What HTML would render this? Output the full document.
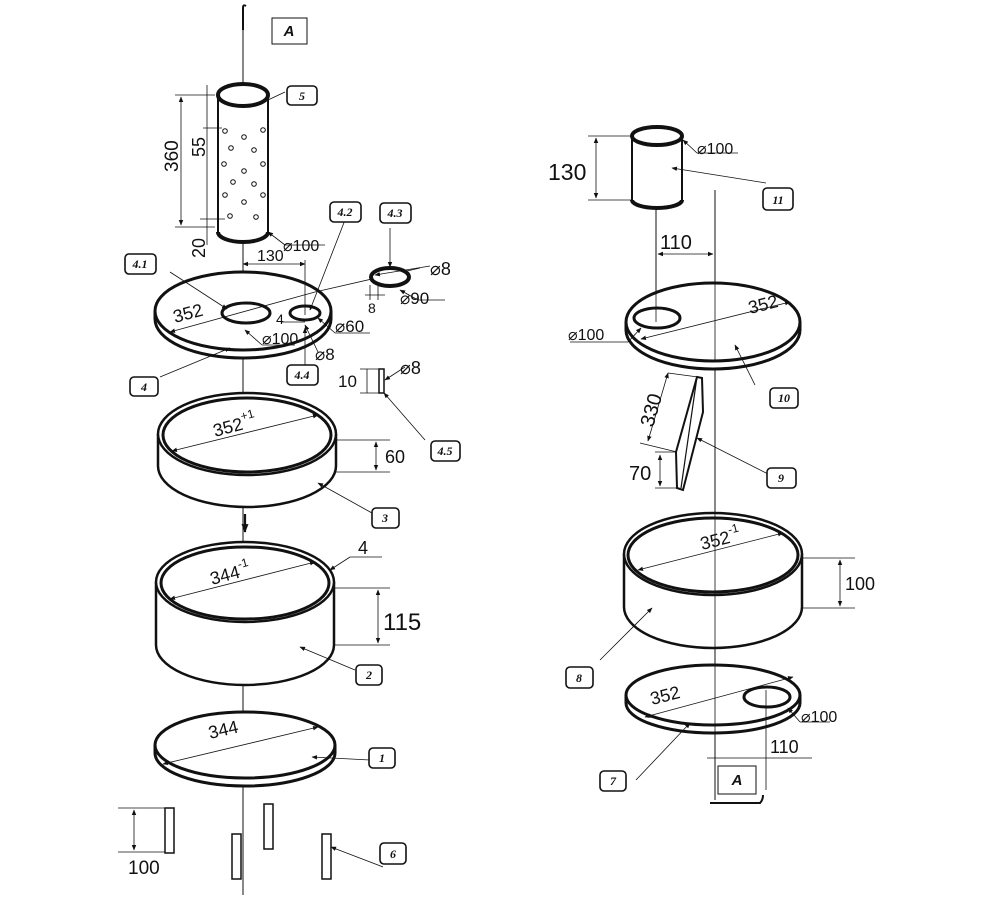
<!DOCTYPE html>
<html><head><meta charset="utf-8"><style>
html,body{margin:0;padding:0;background:#fff;}
svg{display:block}
text{font-family:"Liberation Sans",sans-serif;fill:#111}
.lb{font-family:"Liberation Serif",serif;font-style:italic;font-size:12px;font-weight:bold}
</style></head><body>
<svg width="1000" height="900" viewBox="0 0 1000 900" xmlns="http://www.w3.org/2000/svg">
<defs>
<marker id="a" viewBox="0 0 10 10" refX="9" refY="5" markerWidth="7" markerHeight="7" orient="auto-start-reverse"><path d="M0,1 L10,5 L0,9 z" fill="#111"/></marker>
<marker id="b" viewBox="0 0 10 10" refX="9" refY="5" markerWidth="4" markerHeight="4" orient="auto"><path d="M0,1 L10,5 L0,9 z" fill="#111"/></marker>
</defs>
<g stroke="#111" fill="none">
<line x1="243" y1="28" x2="243" y2="895" stroke-width="1"/>
<path d="M243,30 V8 Q243,4 246,6" stroke-width="2"/>
<line x1="715" y1="190" x2="715" y2="800" stroke-width="1"/>
<line x1="656" y1="205" x2="656" y2="320" stroke-width="1"/>
<rect x="272" y="18" width="35" height="26" stroke-width="1"/>
<rect x="718" y="766" width="38" height="28" stroke-width="1"/>
<path d="M710,803 H760 Q763,800 763,795" stroke-width="2"/>

<path d="M218,95 V232 A25,10 0 0 0 268,232 V95" fill="#fff" stroke-width="2"/>
<path d="M218,232 A25,10 0 0 0 268,232" stroke-width="4"/>
<ellipse cx="243" cy="95" rx="25" ry="11" fill="#fff" stroke-width="4"/>
<g stroke-width="1">
<circle cx="225" cy="131" r="2.3"/><circle cx="263" cy="130" r="2.3"/><circle cx="244" cy="137" r="2.3"/>
<circle cx="231" cy="148" r="2.3"/><circle cx="254" cy="150" r="2.3"/><circle cx="224" cy="164" r="2.3"/>
<circle cx="263" cy="164" r="2.3"/><circle cx="244" cy="171" r="2.3"/><circle cx="233" cy="182" r="2.3"/>
<circle cx="254" cy="184" r="2.3"/><circle cx="225" cy="195" r="2.3"/><circle cx="263" cy="195" r="2.3"/>
<circle cx="244" cy="202" r="2.3"/><circle cx="230" cy="216" r="2.3"/><circle cx="256" cy="217" r="2.3"/>
</g>
<g stroke-width="0.8">
<line x1="175" y1="95" x2="215" y2="95"/><line x1="175" y1="227" x2="215" y2="227"/>
<line x1="181" y1="97" x2="181" y2="225" marker-start="url(#a)" marker-end="url(#a)"/>
<line x1="203" y1="128" x2="222" y2="128"/><line x1="207" y1="85" x2="207" y2="245"/>
<line x1="200" y1="219" x2="225" y2="219"/>
<line x1="268" y1="232" x2="285" y2="245" marker-start="url(#a)"/><line x1="285" y1="245" x2="325" y2="245"/>
<line x1="268" y1="100" x2="285" y2="92"/>
</g>

<path d="M155,311 V319 A88,39 0 0 0 331,319 V311" fill="#fff" stroke-width="3"/>
<ellipse cx="243" cy="311" rx="88" ry="39" fill="#fff" stroke-width="3"/>
<ellipse cx="246" cy="313" rx="24" ry="10" fill="#fff" stroke-width="3"/>
<ellipse cx="305" cy="313" rx="15" ry="7" fill="#fff" stroke-width="3"/>
<g stroke-width="0.8">
<line x1="243" y1="264" x2="305" y2="264" marker-start="url(#a)" marker-end="url(#a)"/>
<line x1="305" y1="260" x2="305" y2="315"/>
<line x1="170" y1="332" x2="315" y2="292" marker-start="url(#a)"/>
<line x1="315" y1="292" x2="420" y2="268"/>
<line x1="170" y1="272" x2="227" y2="309" marker-end="url(#a)"/>
<line x1="345" y1="220" x2="310" y2="310" marker-end="url(#a)"/>
<line x1="245" y1="330" x2="262" y2="345" marker-start="url(#a)"/><line x1="262" y1="345" x2="295" y2="345"/>
<line x1="318" y1="318" x2="335" y2="333" marker-start="url(#a)"/><line x1="335" y1="333" x2="370" y2="333"/>
<line x1="305" y1="325" x2="318" y2="352" marker-start="url(#a)"/>
<line x1="305" y1="365" x2="305" y2="328" marker-end="url(#a)"/>
<line x1="282" y1="322" x2="305" y2="322"/>
<line x1="160" y1="377" x2="230" y2="348" marker-end="url(#a)"/>
</g>
<ellipse cx="390" cy="277" rx="19" ry="9" fill="#fff" stroke-width="4"/>
<g stroke-width="0.8">
<line x1="390" y1="228" x2="390" y2="267" marker-end="url(#a)"/>
<line x1="375" y1="275" x2="430" y2="266" marker-start="url(#a)"/>
<line x1="400" y1="290" x2="418" y2="300" marker-start="url(#a)"/><line x1="418" y1="300" x2="445" y2="300"/>
<line x1="370" y1="285" x2="370" y2="300"/><line x1="378" y1="285" x2="378" y2="300"/>
<line x1="365" y1="295" x2="385" y2="295"/>
</g>
<rect x="379" y="369" width="5" height="24" fill="#fff" stroke-width="1.5"/>
<g stroke-width="0.8">
<line x1="360" y1="369" x2="380" y2="369"/><line x1="360" y1="393" x2="380" y2="393"/>
<line x1="367" y1="369" x2="367" y2="393"/>
<line x1="385" y1="380" x2="405" y2="367" marker-start="url(#a)"/>
<line x1="384" y1="393" x2="425" y2="440" marker-start="url(#a)"/>
</g>

<path d="M158,434 V466 A89,41 0 0 0 336,466 V434" fill="#fff" stroke-width="2.5"/>
<ellipse cx="247" cy="434" rx="89" ry="41" fill="#fff" stroke-width="2.5"/>
<ellipse cx="247" cy="435" rx="84" ry="37" stroke-width="3"/>
<g stroke-width="0.8">
<line x1="172" y1="451" x2="318" y2="415" marker-start="url(#a)" marker-end="url(#a)"/>
<line x1="336" y1="440" x2="390" y2="440"/><line x1="336" y1="472" x2="390" y2="472"/>
<line x1="376" y1="442" x2="376" y2="470" marker-start="url(#a)" marker-end="url(#a)"/>
<line x1="318" y1="483" x2="372" y2="513" marker-start="url(#a)"/>
</g>
<line x1="245" y1="514" x2="245" y2="532" stroke-width="2.2" marker-end="url(#b)"/>

<path d="M156,582 V645 A89,40 0 0 0 334,645 V582" fill="#fff" stroke-width="2.5"/>
<ellipse cx="245" cy="582" rx="89" ry="40" fill="#fff" stroke-width="2.5"/>
<ellipse cx="245" cy="583" rx="84" ry="36" stroke-width="3"/>
<g stroke-width="0.8">
<line x1="170" y1="599" x2="315" y2="562" marker-start="url(#a)" marker-end="url(#a)"/>
<line x1="335" y1="588" x2="390" y2="588"/><line x1="335" y1="645" x2="390" y2="645"/>
<line x1="378" y1="590" x2="378" y2="643" marker-start="url(#a)" marker-end="url(#a)"/>
<line x1="330" y1="570" x2="350" y2="557" marker-start="url(#a)"/><line x1="350" y1="557" x2="382" y2="557"/>
<line x1="300" y1="647" x2="355" y2="670" marker-start="url(#a)"/>
</g>

<path d="M155,745 V753 A90,33 0 0 0 335,753 V745" fill="#fff" stroke-width="3"/>
<ellipse cx="245" cy="745" rx="90" ry="33" fill="#fff" stroke-width="3"/>
<g stroke-width="0.8">
<line x1="163" y1="764" x2="318" y2="727" marker-start="url(#a)" marker-end="url(#a)"/>
<line x1="312" y1="757" x2="370" y2="760" marker-start="url(#a)"/>
</g>

<g stroke-width="1.5" fill="#fff">
<rect x="165" y="808" width="9" height="45"/><rect x="232" y="834" width="9" height="45"/>
<rect x="264" y="804" width="9" height="45"/><rect x="322" y="834" width="9" height="45"/>
</g>
<g stroke-width="0.8">
<line x1="118" y1="808" x2="165" y2="808"/><line x1="118" y1="852" x2="165" y2="852"/>
<line x1="134" y1="810" x2="134" y2="850" marker-start="url(#a)" marker-end="url(#a)"/>
<line x1="331" y1="847" x2="383" y2="867" marker-start="url(#a)"/>
</g>

<path d="M632,136 V200 A25,8 0 0 0 682,200 V136" fill="#fff" stroke-width="2"/>
<path d="M632,200 A25,8 0 0 0 682,200" stroke-width="4"/>
<ellipse cx="657" cy="136" rx="25" ry="9" fill="#fff" stroke-width="4"/>
<g stroke-width="0.8">
<line x1="588" y1="136" x2="632" y2="136"/><line x1="588" y1="200" x2="632" y2="200"/>
<line x1="596" y1="138" x2="596" y2="198" marker-start="url(#a)" marker-end="url(#a)"/>
<line x1="683" y1="140" x2="697" y2="153" marker-start="url(#a)"/><line x1="697" y1="153" x2="738" y2="153"/>
<line x1="672" y1="168" x2="766" y2="183" marker-start="url(#a)"/>
<line x1="658" y1="254" x2="713" y2="254" marker-start="url(#a)" marker-end="url(#a)"/>
</g>

<path d="M626,322 V330 A87,39 0 0 0 800,330 V322" fill="#fff" stroke-width="3"/>
<ellipse cx="713" cy="322" rx="87" ry="39" fill="#fff" stroke-width="3"/>
<ellipse cx="657" cy="318" rx="23" ry="10" fill="#fff" stroke-width="3"/>
<line x1="656" y1="255" x2="656" y2="322" stroke-width="0.8"/>
<line x1="715" y1="282" x2="715" y2="360" stroke-width="0.8"/>
<g stroke-width="0.8">
<line x1="641" y1="339" x2="790" y2="302" marker-start="url(#a)" marker-end="url(#a)"/>
<line x1="641" y1="328" x2="628" y2="342" marker-start="url(#a)"/><line x1="628" y1="342" x2="570" y2="342"/>
<line x1="735" y1="345" x2="755" y2="385" marker-start="url(#a)"/>
</g>

<path d="M697,377 L702,378 L703,412 L683,490 L677,488 L676,452 Z" fill="#fff" stroke-width="2"/>
<line x1="697" y1="377" x2="681" y2="488" stroke-width="1.2"/>
<g stroke-width="0.8">
<line x1="668" y1="373" x2="698" y2="377"/><line x1="640" y1="443" x2="677" y2="452"/>
<line x1="668" y1="373" x2="648" y2="441" marker-start="url(#a)" marker-end="url(#a)"/>
<line x1="655" y1="452" x2="677" y2="452"/><line x1="655" y1="488" x2="677" y2="488"/>
<line x1="660" y1="455" x2="660" y2="486" marker-start="url(#a)" marker-end="url(#a)"/>
<line x1="697" y1="438" x2="770" y2="475" marker-start="url(#a)"/>
</g>

<path d="M624,554 V607 A89,41 0 0 0 802,607 V554" fill="#fff" stroke-width="2.5"/>
<ellipse cx="713" cy="554" rx="89" ry="41" fill="#fff" stroke-width="2.5"/>
<ellipse cx="713" cy="555" rx="85" ry="37" stroke-width="3"/>
<line x1="715" y1="512" x2="715" y2="648" stroke-width="0.8"/>
<g stroke-width="0.8">
<line x1="638" y1="570" x2="783" y2="533" marker-start="url(#a)" marker-end="url(#a)"/>
<line x1="802" y1="558" x2="855" y2="558"/><line x1="802" y1="608" x2="855" y2="608"/>
<line x1="840" y1="560" x2="840" y2="606" marker-start="url(#a)" marker-end="url(#a)"/>
<line x1="652" y1="608" x2="600" y2="660" marker-start="url(#a)"/>
</g>

<path d="M626,695 V703 A87,30 0 0 0 800,703 V695" fill="#fff" stroke-width="3"/>
<ellipse cx="713" cy="695" rx="87" ry="30" fill="#fff" stroke-width="3"/>
<ellipse cx="767" cy="697" rx="23" ry="10" fill="#fff" stroke-width="3"/>
<line x1="715" y1="665" x2="715" y2="733" stroke-width="0.8"/>
<g stroke-width="0.8">
<line x1="645" y1="717" x2="793" y2="677" marker-start="url(#a)" marker-end="url(#a)"/>
<line x1="766" y1="690" x2="766" y2="790"/>
<line x1="707" y1="758" x2="812" y2="758"/>
<line x1="788" y1="708" x2="800" y2="722" marker-start="url(#a)"/><line x1="800" y1="722" x2="830" y2="722"/>
<line x1="690" y1="723" x2="636" y2="780" marker-start="url(#a)"/>
</g>

<g stroke-width="1.6" fill="#fff">
<rect x="287" y="86" width="30" height="19" rx="4"/>
<rect x="330" y="202" width="31" height="20" rx="4"/>
<rect x="380" y="203" width="31" height="20" rx="4"/>
<rect x="125" y="254" width="31" height="20" rx="4"/>
<rect x="130" y="377" width="28" height="19" rx="4"/>
<rect x="287" y="365" width="31" height="20" rx="4"/>
<rect x="431" y="441" width="29" height="20" rx="4"/>
<rect x="372" y="508" width="27" height="20" rx="4"/>
<rect x="356" y="665" width="26" height="20" rx="4"/>
<rect x="369" y="748" width="26" height="20" rx="4"/>
<rect x="380" y="843" width="26" height="21" rx="4"/>
<rect x="763" y="188" width="30" height="22" rx="4"/>
<rect x="770" y="388" width="28" height="20" rx="4"/>
<rect x="767" y="468" width="29" height="20" rx="4"/>
<rect x="566" y="667" width="27" height="21" rx="4"/>
<rect x="600" y="771" width="26" height="20" rx="4"/>
</g>
</g>

<g text-anchor="middle">
<text class="lb" x="302" y="100">5</text>
<text class="lb" x="345" y="216">4.2</text>
<text class="lb" x="395" y="217">4.3</text>
<text class="lb" x="140" y="268">4.1</text>
<text class="lb" x="144" y="391">4</text>
<text class="lb" x="302" y="379">4.4</text>
<text class="lb" x="445" y="455">4.5</text>
<text class="lb" x="385" y="522">3</text>
<text class="lb" x="369" y="679">2</text>
<text class="lb" x="382" y="762">1</text>
<text class="lb" x="393" y="858">6</text>
<text class="lb" x="778" y="204">11</text>
<text class="lb" x="784" y="402">10</text>
<text class="lb" x="781" y="482">9</text>
<text class="lb" x="579" y="682">8</text>
<text class="lb" x="613" y="785">7</text>
<text x="289" y="36" font-size="15" font-family="Liberation Serif" font-style="italic" font-weight="bold">A</text>
<text x="737" y="785" font-size="15" font-family="Liberation Serif" font-style="italic" font-weight="bold">A</text>
</g>

<g font-size="18">
<text x="178" y="172" transform="rotate(-90 178 172)" font-size="19">360</text>
<text x="205" y="157" transform="rotate(-90 205 157)">55</text>
<text x="205" y="258" transform="rotate(-90 205 258)">20</text>
<text x="283" y="251" font-size="16">⌀100</text>
<text x="257" y="261" font-size="16">130</text>
<text x="175" y="323" transform="rotate(-15 175 323)">352</text>
<text x="262" y="344" font-size="16">⌀100</text>
<text x="276" y="324" font-size="14">4</text>
<text x="335" y="332" font-size="17">⌀60</text>
<text x="315" y="360" font-size="17">⌀8</text>
<text x="430" y="275" font-size="18">⌀8</text>
<text x="400" y="304" font-size="17">⌀90</text>
<text x="368" y="313" font-size="14">8</text>
<text x="338" y="387" font-size="17">10</text>
<text x="400" y="374" font-size="18">⌀8</text>
<text x="215" y="437" transform="rotate(-15 215 437)">352<tspan font-size="12" dy="-9">+1</tspan></text>
<text x="385" y="463" font-size="18">60</text>
<text x="212" y="585" transform="rotate(-15 212 585)">344<tspan font-size="12" dy="-9">-1</tspan></text>
<text x="358" y="554" font-size="18">4</text>
<text x="383" y="630" font-size="24">115</text>
<text x="210" y="739" transform="rotate(-13 210 739)">344</text>
<text x="128" y="874" font-size="19">100</text>
<text x="548" y="180" font-size="23">130</text>
<text x="697" y="154" font-size="16">⌀100</text>
<text x="660" y="249" font-size="20">110</text>
<text x="750" y="314" transform="rotate(-14 750 314)">352</text>
<text x="568" y="340" font-size="16">⌀100</text>
<text x="653" y="428" transform="rotate(-74 653 428)" font-size="20">330</text>
<text x="629" y="480" font-size="20">70</text>
<text x="702" y="550" transform="rotate(-14 702 550)">352<tspan font-size="12" dy="-9">-1</tspan></text>
<text x="845" y="590" font-size="18">100</text>
<text x="652" y="705" transform="rotate(-14 652 705)">352</text>
<text x="801" y="722" font-size="16">⌀100</text>
<text x="770" y="753" font-size="18">110</text>
</g>
</svg>
</body></html>
